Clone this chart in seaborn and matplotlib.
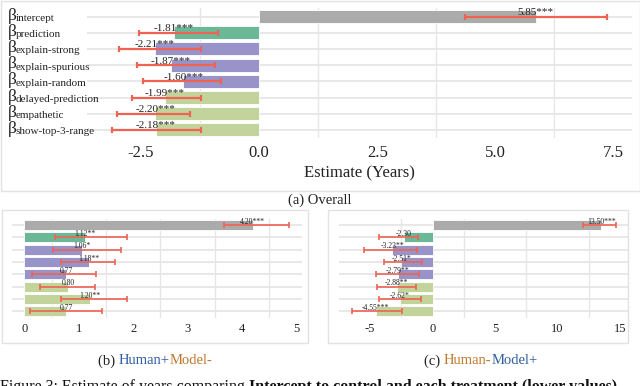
import matplotlib
matplotlib.use('Agg')
import matplotlib.pyplot as plt
import seaborn as sns
import numpy as np
import pandas as pd
from matplotlib.patches import Rectangle

sns.set_style('white')
plt.rcParams['font.family'] = ['Liberation Serif', 'DejaVu Serif']

W, H = 640, 386

# regression terms (same for all three panels)
TERMS = ['intercept', 'prediction', 'explain-strong', 'explain-spurious',
         'explain-random', 'delayed-prediction', 'empathetic', 'show-top-3-range']
TERM_COLORS = ['#ababab', '#6bb896', '#9894c9', '#9894c9', '#9894c9',
               '#c2d49c', '#c2d49c', '#c2d49c']

# (a) overall
overall_est = [5.85, -1.81, -2.21, -1.87, -1.60, -1.99, -2.20, -2.18]
overall_lo = [4.35, -2.55, -2.97, -2.59, -2.46, -2.68, -3.01, -3.11]
overall_hi = [7.37, -0.86, -1.23, -0.93, -0.80, -1.23, -1.47, -1.23]
overall_sig = ['***'] * 8

# (b) Human+Model-
hpm_est = [4.20, 1.12, 1.06, 1.18, 0.77, 0.80, 1.20, 0.77]
hpm_lo = [3.67, 0.56, 0.53, 0.67, 0.13, 0.29, 0.67, 0.11]
hpm_hi = [4.86, 1.89, 1.78, 1.66, 1.32, 1.30, 1.89, 1.42]
hpm_sig = ['***', '**', '*', '**', '', '', '**', '']

# (c) Human-Model+
hmp_est = [13.50, -2.30, -3.23, -2.51, -2.79, -2.88, -2.62, -4.55]
hmp_lo = [12.00, -4.30, -5.45, -3.91, -4.52, -4.47, -4.26, -6.44]
hmp_hi = [14.68, -1.13, -1.27, -0.81, -1.11, -1.32, -0.90, -2.46]
hmp_sig = ['***', '', '**', '*', '**', '**', '*', '***']

BLUE = '#2f5f9f'
ORANGE = '#c0782e'
RED = '#ee6352'


def px_axes(fig, x0, y0, x1, y1):
    # pixel box (top-left origin) -> axes
    return fig.add_axes([x0 / W, 1 - y1 / H, (x1 - x0) / W, (y1 - y0) / H])


def frame(fig, x0, y0, x1, y1):
    fig.patches.append(Rectangle((x0 / W, 1 - y1 / H), (x1 - x0) / W, (y1 - y0) / H,
                                 transform=fig.transFigure, fill=False,
                                 edgecolor='#e2e2e2', lw=1.0))


def panel(ax, est, lo, hi, sig, xlim, major, minor, fs_tick, fs_lab, pad, lw):
    df = pd.DataFrame({'term': TERMS, 'est': est})
    sns.barplot(data=df, x='est', y='term', hue='term', palette=TERM_COLORS,
                legend=False, ax=ax, width=0.8, saturation=1, orient='h',
                edgecolor='white', linewidth=0.6, zorder=2)
    est = np.array(est)
    ax.errorbar(est, np.arange(len(est)), xerr=[est - np.array(lo), np.array(hi) - est],
                fmt='none', ecolor=RED, elinewidth=lw, capsize=2.2, capthick=lw, zorder=3)
    for i, (e, s) in enumerate(zip(est, sig)):
        ax.text(e, i - 0.1, f'{e:.2f}{s}', ha='center', va='baseline',
                fontsize=fs_lab, color='#222222', zorder=4)
    ax.set_xlim(*xlim)
    ax.set_ylim(len(est) - 0.5, -0.5)
    ax.set_xticks(major)
    ax.set_xticklabels([f'{m:g}' if isinstance(m, int) else f'{m:.1f}' for m in major])
    ax.set_xticks(minor, minor=True)
    ax.set_yticks(range(len(est)))
    ax.set_yticklabels([])
    ax.set_ylabel('')
    ax.set_xlabel('')
    ax.grid(False)
    ax.grid(which='minor', axis='x', color='#e6e6e6', lw=1.0, zorder=0)
    ax.grid(which='major', axis='y', color='#e6e6e6', lw=1.3, zorder=0)
    ax.set_axisbelow(True)
    ax.tick_params(which='both', length=0)
    ax.tick_params(axis='x', labelsize=fs_tick, pad=pad, labelcolor='#222222')
    for sp in ax.spines.values():
        sp.set_visible(False)


def colored_caption(fig, xc, yc, parts, fs):
    r = fig.canvas.get_renderer()
    texts = []
    for s, c, wgt in parts:
        t = fig.text(0, 1 - yc / H, s, color=c, fontsize=fs, va='center',
                     ha='left', fontweight=wgt)
        texts.append(t)
    widths = [t.get_window_extent(renderer=r).width for t in texts]
    x = xc - sum(widths) / 2
    for t, w in zip(texts, widths):
        t.set_x(x / W)
        x += w


fig = plt.figure(figsize=(W / 100, H / 100), dpi=100)

# (a) Overall
frame(fig, 0.5, 0.5, 639.5, 191)
ax1 = px_axes(fig, 87, 8.5, 632, 138)
panel(ax1, overall_est, overall_lo, overall_hi, overall_sig, (-3.64, 7.89),
      [-2.5, 0.0, 2.5, 5.0, 7.5], [-1.25, 1.25, 3.75, 6.25], 12, 8, 5, 1.6)
ax1.set_xlabel('Estimate (Years)', fontsize=12, labelpad=3, color='#222222')

# beta labels: big beta + small subscript, left aligned at the figure edge
ytr = ax1.get_yaxis_transform()
for i, t in enumerate(TERMS):
    ax1.annotate('β', xy=(-0.145, i), xycoords=ytr, xytext=(0, -3),
                 textcoords='offset pixels', ha='left', va='baseline',
                 fontsize=12.5, color='#222222', annotation_clip=False)
    ax1.annotate(t, xy=(-0.145, i), xycoords=ytr, xytext=(7.5, -4.5),
                 textcoords='offset pixels', ha='left', va='baseline',
                 fontsize=8, color='#222222', annotation_clip=False)

# (b) Human+Model-
frame(fig, 2, 210, 308, 343)
ax2 = px_axes(fig, 11.7, 218.8, 301.7, 317.5)
panel(ax2, hpm_est, hpm_lo, hpm_hi, hpm_sig, (-0.235, 5.10),
      [0, 1, 2, 3, 4, 5], [0.5, 1.5, 2.5, 3.5, 4.5], 9, 5.5, 4, 1.2)

# (c) Human-Model+
frame(fig, 328, 210, 628, 343)
ax3 = px_axes(fig, 339.3, 218.8, 629.3, 317.5)
panel(ax3, hmp_est, hmp_lo, hmp_hi, hmp_sig, (-7.46, 15.74),
      [-5, 0, 5, 10, 15], [-2.5, 2.5, 7.5, 12.5], 9, 5.5, 4, 1.2)

colored_caption(fig, 320, 200, [('(a) Overall', '#222222', 'normal')], 10.5)
colored_caption(fig, 155, 361, [('(b) ', '#222222', 'normal'), ('Human+', BLUE, 'normal'),
                                ('Model-', ORANGE, 'normal')], 10.5)
colored_caption(fig, 481, 361, [('(c) ', '#222222', 'normal'), ('Human-', ORANGE, 'normal'),
                                ('Model+', BLUE, 'normal')], 10.5)

# figure caption, cut off at the bottom edge like the source
r = fig.canvas.get_renderer()
c1 = fig.text(0.0, 1 - 379 / H, 'Figure 3: Estimate of years comparing ', fontsize=11.5,
              va='top', ha='left', color='#111111')
w1 = c1.get_window_extent(renderer=r).width
fig.text(w1 / W, 1 - 379 / H, 'Intercept to control and each treatment (lower values)',
         fontsize=11.5, va='top', ha='left', fontweight='bold', color='#111111')

fig.savefig('out.png', dpi=100)
